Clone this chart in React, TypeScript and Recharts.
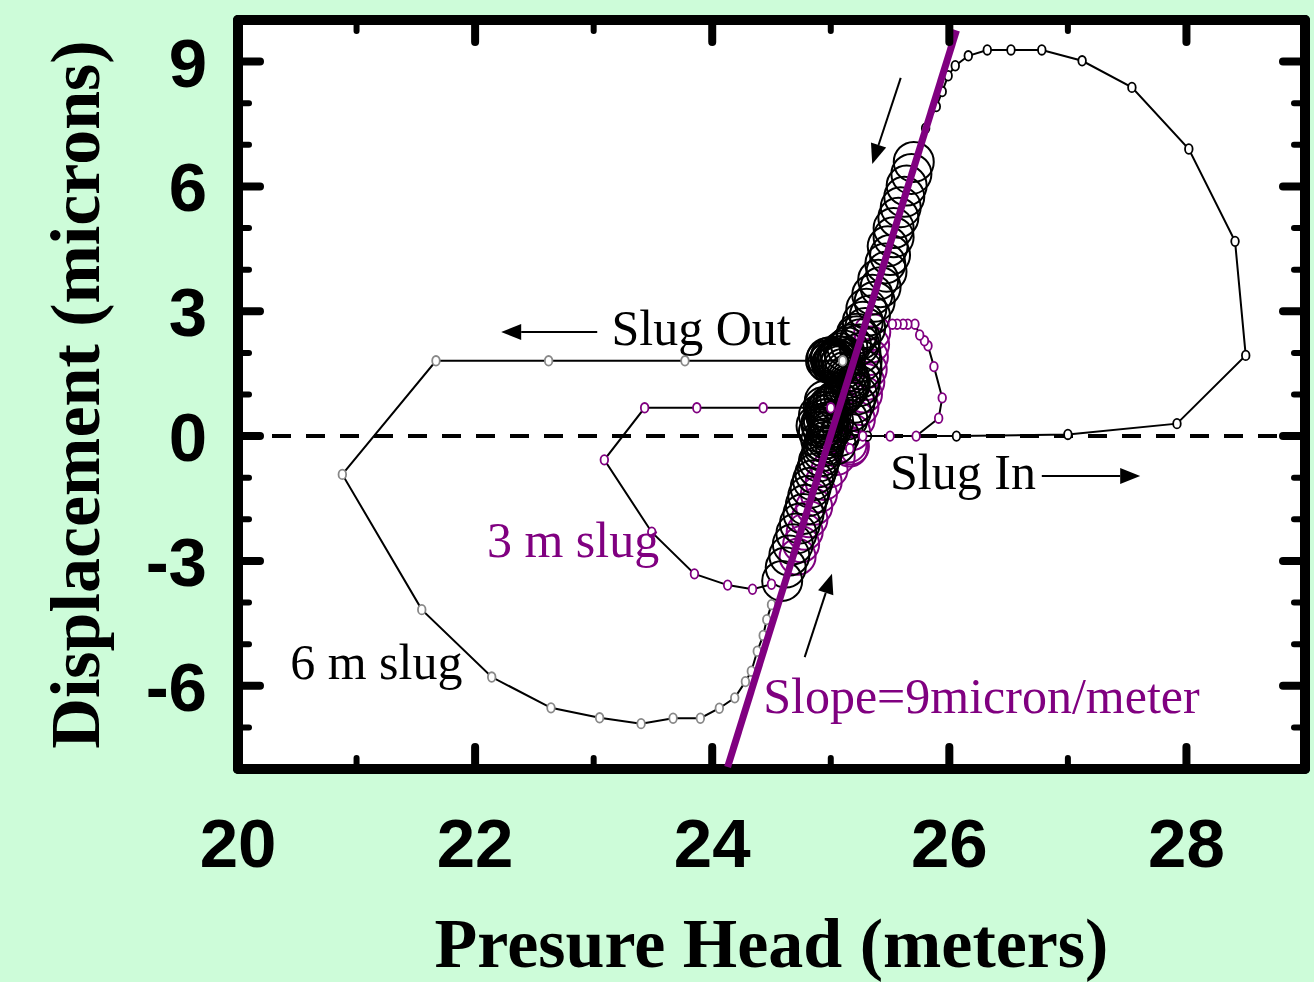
import {
  ReferenceDot,
  ReferenceLine,
  Scatter,
  ScatterChart,
  XAxis,
  YAxis,
} from 'recharts';

interface Pt {
  x: number;
  y: number;
}

const BG = '#cdfcd9';
const PURPLE = '#800080';
const SERIF = '"Liberation Serif", "Times New Roman", serif';
const SANS = '"Liberation Sans", Arial, sans-serif';

// chart box: plot area runs 238..1305 x 20..769
// (the mirror axes need a 1px box or recharts skips them)
const W = 1314;
const H = 982;
const M = { top: 19, right: 8, bottom: 0, left: 0 };
const Y_AXIS_W = 238;
const X_AXIS_H = 213;

// axis ticks (minor every 1, labels on the majors)
const xTicks = [20, 21, 22, 23, 24, 25, 26, 27, 28];
const xLabels = [20, 22, 24, 26, 28];
const yTicks = [-7, -6, -5, -4, -3, -2, -1, 0, 1, 2, 3, 4, 5, 6, 7, 8, 9];
const yLabels = [-6, -3, 0, 3, 6, 9];

// 6 m slug, slug in: right-hand loop (black markers)
const sixSlugIn: Pt[] = [
  { x: 25.31, y: 0.0 }, { x: 26.06, y: 0.0 }, { x: 27.0, y: 0.04 }, { x: 27.92, y: 0.3 },
  { x: 28.5, y: 1.94 }, { x: 28.41, y: 4.68 }, { x: 28.02, y: 6.9 }, { x: 27.54, y: 8.38 },
  { x: 27.12, y: 9.02 }, { x: 26.78, y: 9.28 }, { x: 26.52, y: 9.28 }, { x: 26.32, y: 9.28 },
  { x: 26.16, y: 9.14 }, { x: 26.05, y: 8.9 }, { x: 25.99, y: 8.66 }, { x: 25.94, y: 8.28 },
  { x: 25.89, y: 7.92 }, { x: 25.8, y: 7.4 },
];

// 6 m slug, slug out: left-hand loop (grey markers)
const sixSlugOut: Pt[] = [
  { x: 25.1, y: 1.81 }, { x: 23.77, y: 1.81 }, { x: 22.62, y: 1.81 }, { x: 21.67, y: 1.81 },
  { x: 20.88, y: -0.92 }, { x: 21.55, y: -4.17 }, { x: 22.14, y: -5.79 }, { x: 22.64, y: -6.53 },
  { x: 23.05, y: -6.77 }, { x: 23.4, y: -6.91 }, { x: 23.67, y: -6.78 }, { x: 23.9, y: -6.78 },
  { x: 24.06, y: -6.54 }, { x: 24.19, y: -6.29 }, { x: 24.28, y: -5.9 }, { x: 24.33, y: -5.65 },
  { x: 24.38, y: -5.17 }, { x: 24.43, y: -4.79 }, { x: 24.46, y: -4.41 }, { x: 24.5, y: -4.05 },
];

// 3 m slug, slug in (purple markers)
const threeSlugIn: Pt[] = [
  { x: 25.16, y: -0.3 }, { x: 25.27, y: 0.0 }, { x: 25.5, y: 0.0 }, { x: 25.72, y: 0.0 },
  { x: 25.91, y: 0.43 }, { x: 25.94, y: 0.92 }, { x: 25.87, y: 1.67 }, { x: 25.82, y: 2.17 },
  { x: 25.79, y: 2.29 }, { x: 25.75, y: 2.43 }, { x: 25.71, y: 2.69 }, { x: 25.65, y: 2.69 },
  { x: 25.61, y: 2.69 }, { x: 25.56, y: 2.69 }, { x: 25.52, y: 2.69 },
];

// 3 m slug, slug out (purple markers)
const threeSlugOut: Pt[] = [
  { x: 25.0, y: 0.68 }, { x: 24.43, y: 0.68 }, { x: 23.87, y: 0.68 }, { x: 23.43, y: 0.68 },
  { x: 23.09, y: -0.57 }, { x: 23.49, y: -2.31 }, { x: 23.85, y: -3.31 }, { x: 24.13, y: -3.58 },
  { x: 24.34, y: -3.68 }, { x: 24.5, y: -3.56 },
];

// big open circles along the linear part (6 m slug)
const clusterSix: Pt[] = [
  { x: 25.7, y: 6.59 }, { x: 25.68, y: 6.3 }, { x: 25.64, y: 6.02 }, { x: 25.62, y: 5.75 },
  { x: 25.59, y: 5.5 }, { x: 25.57, y: 5.25 }, { x: 25.53, y: 5.0 }, { x: 25.53, y: 4.78 },
  { x: 25.48, y: 4.56 }, { x: 25.5, y: 4.35 }, { x: 25.46, y: 4.15 }, { x: 25.47, y: 3.95 },
  { x: 25.4, y: 3.76 }, { x: 25.42, y: 3.58 }, { x: 25.35, y: 3.4 }, { x: 25.37, y: 3.23 },
  { x: 25.3, y: 3.06 }, { x: 25.33, y: 2.9 }, { x: 25.27, y: 2.75 }, { x: 25.29, y: 2.6 },
  { x: 25.22, y: 2.46 }, { x: 25.25, y: 2.33 }, { x: 25.17, y: 2.2 }, { x: 25.14, y: 2.13 },
  { x: 25.11, y: 2.06 }, { x: 25.08, y: 1.99 }, { x: 25.06, y: 1.92 }, { x: 25.0, y: 1.9 },
  { x: 25.04, y: 1.86 }, { x: 25.03, y: 1.8 }, { x: 25.01, y: 1.74 }, { x: 25.05, y: 1.74 },
  { x: 24.96, y: 1.82 }, { x: 24.98, y: 1.76 }, { x: 25.0, y: 1.84 }, { x: 25.02, y: 1.78 },
  { x: 25.06, y: 1.84 }, { x: 25.09, y: 1.78 }, { x: 25.12, y: 1.85 }, { x: 24.97, y: 1.88 },
  { x: 25.04, y: 1.7 }, { x: 25.08, y: 1.92 },
  { x: 25.07, y: 1.68 }, { x: 25.1, y: 1.61 }, { x: 25.12, y: 1.54 }, { x: 25.14, y: 1.47 },
  { x: 25.15, y: 1.4 }, { x: 25.16, y: 1.33 }, { x: 25.16, y: 1.25 }, { x: 25.15, y: 1.17 },
  { x: 25.13, y: 1.09 }, { x: 25.11, y: 1.01 }, { x: 25.08, y: 0.94 }, { x: 25.05, y: 0.87 },
  { x: 25.02, y: 0.8 }, { x: 24.99, y: 0.73 }, { x: 24.97, y: 0.66 }, { x: 24.95, y: 0.6 },
  { x: 24.96, y: 0.58 }, { x: 24.96, y: 0.5 }, { x: 24.94, y: 0.4 }, { x: 24.97, y: 0.42 },
  { x: 24.9, y: 0.5 }, { x: 24.92, y: 0.3 }, { x: 24.94, y: 0.7 }, { x: 24.9, y: 0.1 },
  { x: 24.92, y: -0.1 }, { x: 24.95, y: 0.85 }, { x: 25.0, y: 0.55 }, { x: 25.02, y: 0.35 },
  { x: 25.0, y: 0.15 }, { x: 24.88, y: 0.25 },
  { x: 25.22, y: 2.4 }, { x: 25.24, y: 2.2 }, { x: 25.25, y: 2.0 }, { x: 25.26, y: 1.8 },
  { x: 25.26, y: 1.6 }, { x: 25.25, y: 1.4 }, { x: 25.24, y: 1.2 }, { x: 25.22, y: 1.0 },
  { x: 25.2, y: 0.8 }, { x: 25.17, y: 0.6 }, { x: 25.14, y: 0.4 }, { x: 25.1, y: 0.2 },
  { x: 25.07, y: 0.0 }, { x: 25.04, y: -0.2 },
  { x: 24.98, y: 0.34 }, { x: 24.98, y: 0.26 }, { x: 24.93, y: 0.2 }, { x: 24.98, y: 0.18 },
  { x: 24.98, y: 0.1 }, { x: 24.97, y: 0.02 }, { x: 24.96, y: -0.06 }, { x: 24.95, y: -0.15 },
  { x: 24.94, y: -0.25 }, { x: 24.93, y: -0.36 }, { x: 24.92, y: -0.48 }, { x: 24.9, y: -0.61 },
  { x: 24.89, y: -0.75 }, { x: 24.87, y: -0.9 }, { x: 24.85, y: -1.06 }, { x: 24.83, y: -1.24 },
  { x: 24.81, y: -1.44 }, { x: 24.79, y: -1.65 }, { x: 24.77, y: -1.87 }, { x: 24.74, y: -2.1 },
  { x: 24.71, y: -2.34 }, { x: 24.68, y: -2.6 }, { x: 24.65, y: -2.87 }, { x: 24.62, y: -3.16 },
  { x: 24.59, y: -3.48 },
];

// open circles of the 3 m slug inside the band
const clusterThree: Pt[] = [
  { x: 24.72, y: -2.9 }, { x: 24.75, y: -2.6 }, { x: 24.78, y: -2.3 }, { x: 24.82, y: -2.0 },
  { x: 24.86, y: -1.7 }, { x: 24.9, y: -1.4 }, { x: 24.94, y: -1.1 }, { x: 24.99, y: -0.8 },
  { x: 25.05, y: -0.5 }, { x: 25.16, y: -0.3 }, { x: 25.17, y: -0.25 }, { x: 25.15, y: -0.2 },
  { x: 25.18, y: 0.1 }, { x: 25.22, y: 0.4 }, { x: 25.25, y: 0.7 }, { x: 25.28, y: 1.0 },
  { x: 25.3, y: 1.3 }, { x: 25.32, y: 1.6 }, { x: 25.33, y: 1.9 }, { x: 25.34, y: 2.2 },
  { x: 25.35, y: 2.5 },
];

// linear fit, slope = 9 micron/meter
const fitLine: Pt[] = [
  { x: 24.13, y: -7.95 },
  { x: 26.06, y: 9.75 },
];

const zeroLine: Pt[] = [
  { x: 20, y: 0 },
  { x: 29, y: 0 },
];

const axisLine = { stroke: '#000', strokeWidth: 10, strokeLinecap: 'round' as const };

function tickMark(x1: number, y1: number, x2: number, y2: number, major: boolean) {
  return (
    <line
      x1={x1}
      y1={y1}
      x2={x2}
      y2={y2}
      stroke="#000"
      strokeWidth={major ? 8 : 6}
      strokeLinecap="round"
    />
  );
}

function BottomTick(props: any) {
  const { x, y, payload } = props;
  const major = xLabels.includes(payload.value);
  return (
    <g>
      {tickMark(x, y, x, y - (major ? 22 : 11), major)}
      {major && (
        <text x={x} y={y + 98} textAnchor="middle" fontFamily={SANS} fontWeight="bold" fontSize={69} fill="#000">
          {payload.value}
        </text>
      )}
    </g>
  );
}

function TopTick(props: any) {
  const { x, y, payload } = props;
  const major = xLabels.includes(payload.value);
  return <g>{tickMark(x, y, x, y + (major ? 22 : 11), major)}</g>;
}

function LeftTick(props: any) {
  const { x, y, payload } = props;
  const major = yLabels.includes(payload.value);
  return (
    <g>
      {tickMark(x, y, x + (major ? 22 : 11), y, major)}
      {major && (
        <text x={x - 31} y={y + 25} textAnchor="end" fontFamily={SANS} fontWeight="bold" fontSize={69} fill="#000">
          {payload.value}
        </text>
      )}
    </g>
  );
}

function RightTick(props: any) {
  const { x, y, payload } = props;
  const major = yLabels.includes(payload.value);
  return <g>{tickMark(x, y, x - (major ? 22 : 11), y, major)}</g>;
}

function Arrow(props: any) {
  const { x1, y1, x2, y2 } = props;
  const a = Math.atan2(y2 - y1, x2 - x1);
  const len = 20;
  const half = 8;
  const bx = x2 - len * Math.cos(a);
  const by = y2 - len * Math.sin(a);
  const px = -Math.sin(a) * half;
  const py = Math.cos(a) * half;
  return (
    <g>
      <line x1={x1} y1={y1} x2={bx} y2={by} stroke="#000" strokeWidth={2} />
      <polygon points={`${x2},${y2} ${bx + px},${by + py} ${bx - px},${by - py}`} fill="#000" />
    </g>
  );
}

function note(text: string, color: string) {
  return {
    content: (p: any) => (
      <text x={p.viewBox.x} y={p.viewBox.y} fill={color} fontFamily={SERIF} fontSize={50}>
        {text}
      </text>
    ),
  };
}

const marker = (stroke: string) => (p: any) => (
  <ellipse cx={p.cx} cy={p.cy} rx={3.8} ry={4.8} fill="#fff" stroke={stroke} strokeWidth={1.8} />
);

const ring = (stroke: string, r: number) => (p: any) => (
  <circle cx={p.cx} cy={p.cy} r={r} fill="none" stroke={stroke} strokeWidth={2} />
);

const noShape = () => <g />;

export default function App() {
  return (
    <div style={{ position: 'absolute', left: 0, top: 0, width: W, height: H, background: BG }}>
      {/* white plot panel behind the svg */}
      <div
        style={{
          position: 'absolute',
          left: 238,
          top: 20,
          width: 1067,
          height: 749,
          background: '#fff',
        }}
      />
      <div style={{ position: 'absolute', left: 0, top: 0 }}>
        <ScatterChart width={W} height={H} margin={M}>
          <XAxis
            xAxisId="x"
            type="number"
            dataKey="x"
            domain={[20, 29]}
            allowDataOverflow
            ticks={xTicks}
            interval={0}
            height={X_AXIS_H}
            tickSize={0}
            tickMargin={0}
            tickLine={false}
            axisLine={axisLine}
            tick={BottomTick}
            label={{
              content: (p: any) => (
                <text
                  x={p.viewBox.x + p.viewBox.width / 2}
                  y={p.viewBox.y + 198}
                  textAnchor="middle"
                  fontFamily={SERIF}
                  fontWeight="bold"
                  fontSize={70}
                  fill="#000"
                >
                  Presure Head (meters)
                </text>
              ),
            }}
          />
          <XAxis
            xAxisId="top"
            orientation="top"
            type="number"
            dataKey="x"
            domain={[20, 29]}
            allowDataOverflow
            ticks={xTicks}
            interval={0}
            height={1}
            tickSize={0}
            tickMargin={0}
            tickLine={false}
            axisLine={axisLine}
            tick={TopTick}
          />
          <YAxis
            yAxisId="y"
            type="number"
            dataKey="y"
            domain={[-8, 10]}
            allowDataOverflow
            ticks={yTicks}
            interval={0}
            width={Y_AXIS_W}
            tickSize={0}
            tickMargin={0}
            tickLine={false}
            axisLine={axisLine}
            tick={LeftTick}
            label={{
              content: (p: any) => {
                const cx = p.viewBox.x + 99;
                const cy = p.viewBox.y + p.viewBox.height / 2;
                return (
                  <text
                    x={cx}
                    y={cy}
                    transform={`rotate(-90 ${cx} ${cy})`}
                    textAnchor="middle"
                    fontFamily={SERIF}
                    fontWeight="bold"
                    fontSize={70}
                    fill="#000"
                  >
                    Displacement (microns)
                  </text>
                );
              },
            }}
          />
          <YAxis
            yAxisId="right"
            orientation="right"
            type="number"
            dataKey="y"
            domain={[-8, 10]}
            allowDataOverflow
            ticks={yTicks}
            interval={0}
            width={1}
            tickSize={0}
            tickMargin={0}
            tickLine={false}
            axisLine={axisLine}
            tick={RightTick}
          />

          <Scatter
            xAxisId="x"
            yAxisId="y"
            data={zeroLine}
            line={{ stroke: '#000', strokeWidth: 4, strokeDasharray: '19 15' }}
            lineType="joint"
            shape={noShape}
            isAnimationActive={false}
          />
          <Scatter xAxisId="x" yAxisId="y" data={clusterThree} shape={ring(PURPLE, 18)} isAnimationActive={false} />
          <Scatter xAxisId="x" yAxisId="y" data={clusterSix} shape={ring('#000', 20)} isAnimationActive={false} />
          <Scatter
            xAxisId="x"
            yAxisId="y"
            data={sixSlugIn}
            line={{ stroke: '#000', strokeWidth: 2 }}
            lineType="joint"
            shape={marker('#000')}
            isAnimationActive={false}
          />
          <Scatter
            xAxisId="x"
            yAxisId="y"
            data={sixSlugOut}
            line={{ stroke: '#000', strokeWidth: 2 }}
            lineType="joint"
            shape={marker('#888')}
            isAnimationActive={false}
          />
          <Scatter
            xAxisId="x"
            yAxisId="y"
            data={threeSlugIn}
            line={{ stroke: '#000', strokeWidth: 2 }}
            lineType="joint"
            shape={marker(PURPLE)}
            isAnimationActive={false}
          />
          <Scatter
            xAxisId="x"
            yAxisId="y"
            data={threeSlugOut}
            line={{ stroke: '#000', strokeWidth: 2 }}
            lineType="joint"
            shape={marker(PURPLE)}
            isAnimationActive={false}
          />
          <Scatter
            xAxisId="x"
            yAxisId="y"
            data={fitLine}
            line={{ stroke: PURPLE, strokeWidth: 7 }}
            lineType="joint"
            shape={noShape}
            isAnimationActive={false}
          />

          {/* direction arrows */}
          <ReferenceLine xAxisId="x" yAxisId="y" segment={[{ x: 23.03, y: 2.5 }, { x: 22.22, y: 2.5 }]} shape={Arrow} />
          <ReferenceLine xAxisId="x" yAxisId="y" segment={[{ x: 26.78, y: -0.96 }, { x: 27.61, y: -0.96 }]} shape={Arrow} />
          <ReferenceLine xAxisId="x" yAxisId="y" segment={[{ x: 25.59, y: 8.61 }, { x: 25.35, y: 6.54 }]} shape={Arrow} />
          <ReferenceLine xAxisId="x" yAxisId="y" segment={[{ x: 24.78, y: -5.31 }, { x: 25.01, y: -3.31 }]} shape={Arrow} />

          {/* annotations */}
          <ReferenceDot xAxisId="x" yAxisId="y" x={23.15} y={2.19} r={0} fill="none" stroke="none" label={note('Slug Out', '#000')} />
          <ReferenceDot xAxisId="x" yAxisId="y" x={25.5} y={-1.27} r={0} fill="none" stroke="none" label={note('Slug In', '#000')} />
          <ReferenceDot xAxisId="x" yAxisId="y" x={22.1} y={-2.9} r={0} fill="none" stroke="none" label={note('3 m slug', PURPLE)} />
          <ReferenceDot xAxisId="x" yAxisId="y" x={20.44} y={-5.84} r={0} fill="none" stroke="none" label={note('6 m slug', '#000')} />
          <ReferenceDot
            xAxisId="x"
            yAxisId="y"
            x={24.43}
            y={-6.65}
            r={0}
            fill="none"
            stroke="none"
            label={note('Slope=9micron/meter', PURPLE)}
          />
        </ScatterChart>
      </div>
    </div>
  );
}
